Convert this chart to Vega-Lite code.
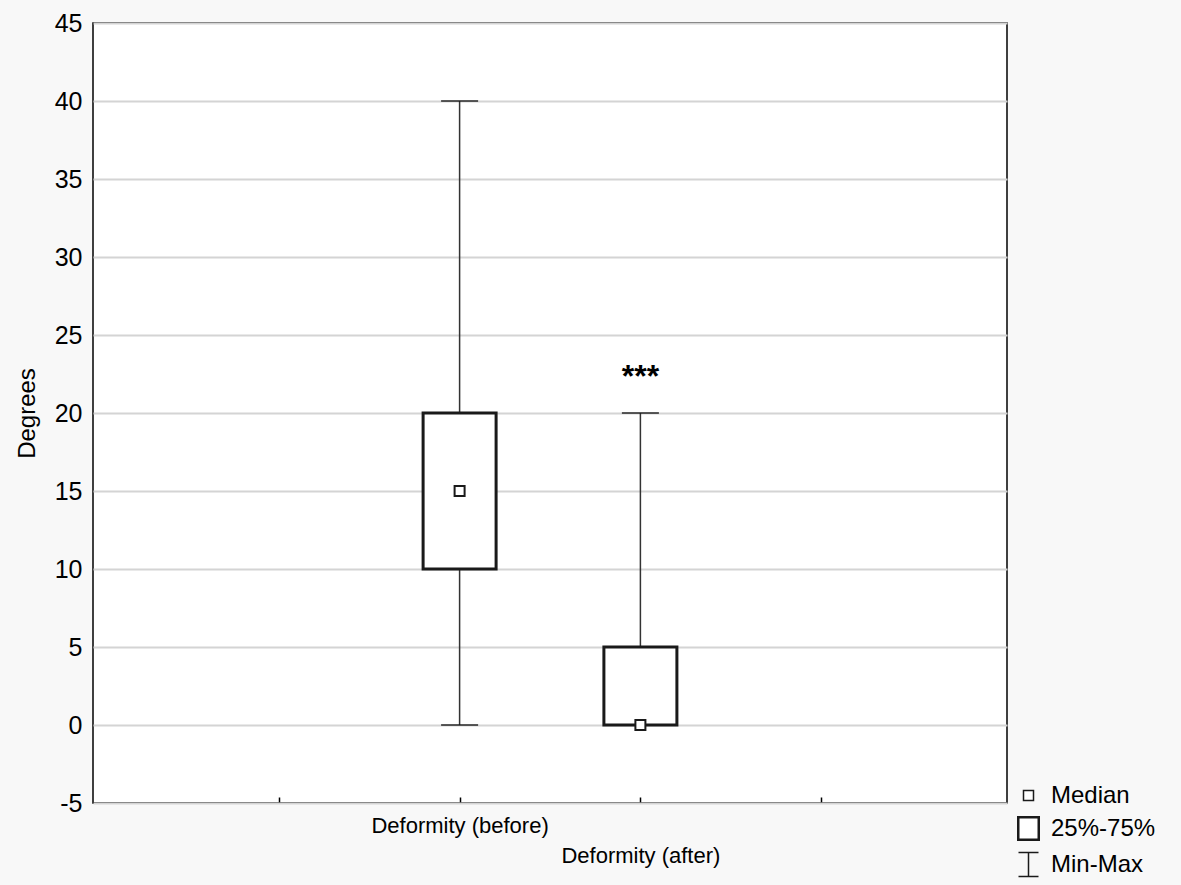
{
  "$schema": "https://vega.github.io/schema/vega-lite/v6.json",
  "width": 914,
  "height": 780,
  "autosize": {"type": "none"},
  "padding": {"left": 93, "top": 23, "right": 174, "bottom": 82},
  "background": "#f8f8f8",
  "config": {
    "view": {"fill": "white", "stroke": "black", "strokeWidth": 1.5},
    "font": "Liberation Sans"
  },
  "datasets": {
    "boxes": [
      {"group": "Deformity (before)", "pos": 2, "min": 0, "q1": 10, "median": 15, "q3": 20, "max": 40, "kind": "Median"},
      {"group": "Deformity (after)", "pos": 3, "min": 0, "q1": 0, "median": 0, "q3": 5, "max": 20, "kind": "Median"}
    ],
    "notes": [
      {"pos": 3, "y": 22.3, "label": "***"}
    ]
  },
  "layer": [
    {
      "data": {"name": "boxes"},
      "mark": {"type": "rule", "color": "#333333", "strokeWidth": 1.5},
      "encoding": {
        "x": {
          "field": "pos", "type": "quantitative",
          "scale": {"domain": [0, 5], "nice": false, "zero": false},
          "axis": {
            "title": null,
            "values": [1, 2, 3, 4],
            "labelExpr": "datum.value == 2 ? 'Deformity (before)' : datum.value == 3 ? 'Deformity (after)' : ''",
            "labelFontSize": 22,
            "labelColor": "black",
            "labelPadding": {"condition": {"test": "datum.value == 3", "value": 42}, "value": 12},
            "ticks": false,
            "domain": false,
            "grid": true,
            "gridColor": "black",
            "gridWidth": 1.5,
            "gridDash": [6, 2000],
            "gridDashOffset": 1232,
            "labelFlush": false,
            "labelOverlap": false
          }
        },
        "y": {
          "field": "min", "type": "quantitative",
          "scale": {"domain": [-5, 45], "nice": false, "zero": false},
          "axis": {
            "title": "Degrees",
            "titleFontSize": 24,
            "titleFontWeight": "normal",
            "titleColor": "black",
            "titlePadding": 15,
            "values": [-5, 0, 5, 10, 15, 20, 25, 30, 35, 40, 45],
            "labelExpr": "'' + datum.value",
            "labelFontSize": 25,
            "labelColor": "black",
            "labelPadding": 11,
            "ticks": false,
            "domain": false,
            "grid": true,
            "gridColor": "#d4d4d4",
            "gridWidth": 2
          }
        },
        "y2": {"field": "max"}
      }
    },
    {
      "data": {"name": "boxes"},
      "mark": {"type": "tick", "orient": "horizontal", "color": "#1a1a1a", "size": 37, "thickness": 2},
      "encoding": {
        "x": {"field": "pos", "type": "quantitative"},
        "y": {"field": "max", "type": "quantitative"}
      }
    },
    {
      "data": {"name": "boxes"},
      "mark": {"type": "tick", "orient": "horizontal", "color": "#1a1a1a", "size": 37, "thickness": 2},
      "encoding": {
        "x": {"field": "pos", "type": "quantitative"},
        "y": {"field": "min", "type": "quantitative"}
      }
    },
    {
      "data": {"name": "boxes"},
      "mark": {"type": "bar", "size": 73, "fill": "white", "stroke": "#1a1a1a", "strokeWidth": 3},
      "encoding": {
        "x": {"field": "pos", "type": "quantitative"},
        "y": {"field": "q1", "type": "quantitative"},
        "y2": {"field": "q3"}
      }
    },
    {
      "data": {"name": "boxes"},
      "mark": {"type": "point", "filled": false, "fill": "white", "stroke": "#1a1a1a", "strokeWidth": 2, "size": 625, "opacity": 1},
      "encoding": {
        "x": {"field": "pos", "type": "quantitative"},
        "y": {"field": "median", "type": "quantitative"},
        "shape": {
          "field": "kind", "type": "nominal",
          "scale": {
            "domain": ["Median", "25%-75%", "Min-Max"],
            "range": [
              "M-0.4,-0.4H0.4V0.4H-0.4Z",
              "M-0.86,-0.94H0.86V0.94H-0.86ZM-0.78,-0.86H0.78V0.86H-0.78Z",
              "M-0.8,-0.96H0.8M0,-0.96V0.96M-0.8,0.96H0.8"
            ]
          },
          "legend": {
            "title": null,
            "orient": "none",
            "legendX": 922,
            "legendY": 759,
            "padding": 0,
            "symbolSize": 625,
            "labelFontSize": 24,
            "labelColor": "black",
            "labelOffset": 9,
            "rowPadding": 5,
            "labelLimit": 200,
            "encode": {
              "symbols": {
                "update": {
                  "stroke": {"value": "#1a1a1a"},
                  "fill": {"value": "transparent"},
                  "strokeWidth": {"value": 1.8},
                  "opacity": {"value": 1}
                }
              }
            }
          }
        }
      }
    },
    {
      "data": {"name": "notes"},
      "mark": {"type": "text", "fontSize": 32, "fontWeight": "bold", "color": "black", "baseline": "middle", "align": "center"},
      "encoding": {
        "x": {"field": "pos", "type": "quantitative"},
        "y": {"field": "y", "type": "quantitative"},
        "text": {"field": "label"}
      }
    }
  ]
}
